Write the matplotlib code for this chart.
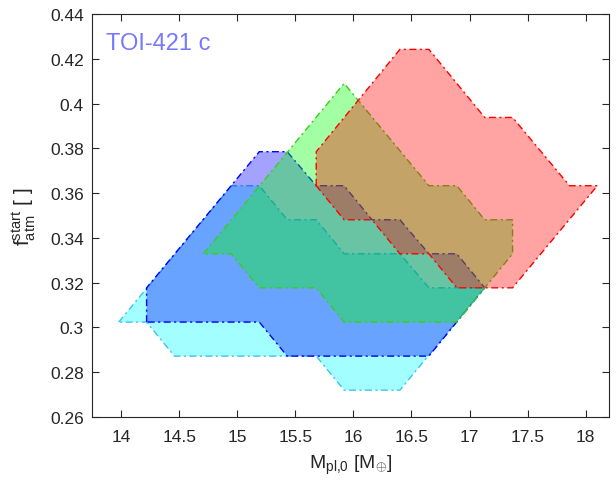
import matplotlib
matplotlib.use('Agg')
import matplotlib.pyplot as plt
from matplotlib.patches import Polygon
from matplotlib.ticker import FormatStrFormatter

plt.rcParams['font.family'] = ['Liberation Sans', 'DejaVu Sans']
plt.rcParams['mathtext.fontset'] = 'custom'
plt.rcParams['mathtext.rm'] = 'Liberation Sans'
plt.rcParams['mathtext.it'] = 'Liberation Sans:italic'

# grid levels
m_grid = [13.98, 14.22, 14.46, 14.71, 14.95, 15.19, 15.43, 15.68, 15.92,
          16.16, 16.40, 16.65, 16.89, 17.13, 17.37, 17.62, 17.86, 18.10]
f_grid = [0.2720, 0.2872, 0.3024, 0.3177, 0.3329, 0.3481, 0.3633,
          0.3785, 0.3938, 0.4090, 0.4242]

# polygon vertices as (mass index, fatm index) on those levels
cyan_idx = [(0, 2), (4, 6), (5, 6), (6, 5), (7, 5), (8, 4), (10, 4), (11, 3),
            (13, 3), (10, 0), (8, 0), (7, 1), (2, 1), (1, 2)]
blue_idx = [(1, 2), (1, 3), (5, 7), (6, 7), (7, 6), (8, 6), (9, 5), (10, 5),
            (11, 4), (12, 4), (13, 3), (11, 1), (6, 1), (5, 2)]
green_idx = [(3, 4), (8, 9), (11, 6), (12, 6), (13, 5), (14, 5), (14, 4),
             (13, 3), (12, 2), (8, 2), (7, 3), (5, 3), (4, 4)]
red_idx = [(7, 6), (7, 7), (10, 10), (11, 10), (13, 8), (14, 8), (16, 6),
           (17, 6), (14, 3), (12, 3), (11, 4), (10, 4), (9, 5), (8, 5)]

regions = [
    (cyan_idx, (0, 1, 1), '#3cc3f0'),
    (blue_idx, (0, 0, 1), '#0000ff'),
    (green_idx, (0, 1, 0), '#3ccc1e'),
    (red_idx, (1, 0, 0), '#ff0000'),
]

fig = plt.figure(figsize=(6.16, 4.89), dpi=100)
ax = fig.add_axes([92/616, 71/489, 517/616, 403/489])

for idx, face, edge in regions:
    pts = [(m_grid[i], f_grid[j]) for i, j in idx]
    p = Polygon(pts, closed=True, facecolor=face + (0.36,), edgecolor=edge,
                linewidth=1.0, linestyle=(0, (5, 2.5, 1.5, 2.5)))
    ax.add_patch(p)

ax.set_xlim(13.75, 18.2)
ax.set_ylim(0.26, 0.44)
ax.set_xticks([14, 14.5, 15, 15.5, 16, 16.5, 17, 17.5, 18])
ax.set_yticks([0.26, 0.28, 0.3, 0.32, 0.34, 0.36, 0.38, 0.4, 0.42, 0.44])
ax.xaxis.set_major_formatter(FormatStrFormatter('%g'))
ax.yaxis.set_major_formatter(FormatStrFormatter('%g'))

axc = '#262626'
ax.tick_params(direction='in', top=True, right=True, length=5, width=0.8,
               labelsize=12.5, colors=axc)
ax.tick_params(axis='x', pad=9)
ax.tick_params(axis='y', pad=6)
for s in ax.spines.values():
    s.set_color(axc)
    s.set_linewidth(0.8)

ax.set_xlabel(r'M$_{\rm pl{,}0}$ [M$_{\oplus}$]', fontsize=14, color=axc,
              labelpad=6)
ax.set_ylabel(r'f$_{\rm atm}^{\rm start}$ [ ]', fontsize=15, color=axc,
              labelpad=9)

ax.text(0.027, 0.913, 'TOI-421 c', transform=ax.transAxes, fontsize=17,
        color='#7878ff', va='baseline', ha='left')

fig.savefig('out.png', dpi=100)
